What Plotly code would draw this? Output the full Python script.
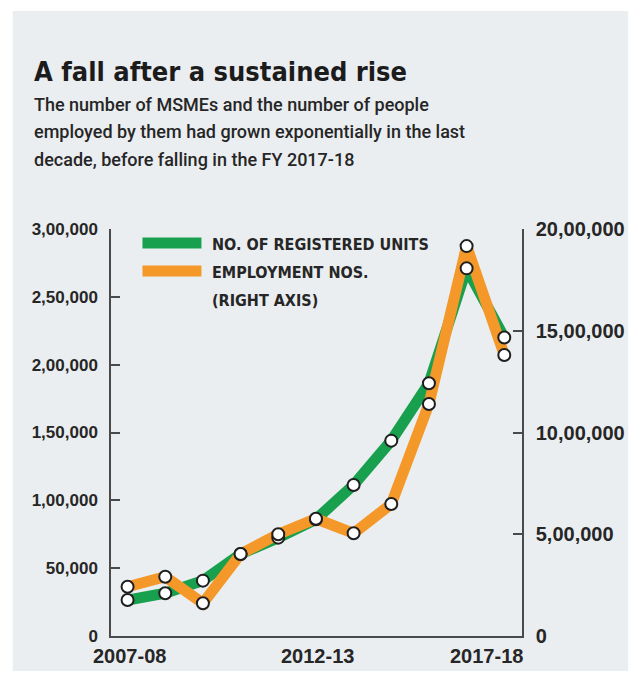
import plotly.graph_objects as go

# ---------------- data ----------------
years = ["2007-08", "2008-09", "2009-10", "2010-11", "2011-12", "2012-13",
         "2013-14", "2014-15", "2015-16", "2016-17", "2017-18"]
registered_units = [26500, 31500, 40800, 60400, 72500, 86000,
                    111300, 144000, 186300, 271000, 220000]
employment = [242000, 291000, 160700, 403000, 500000, 576000,
              504700, 648600, 1140000, 1916000, 1381000]

left_tickvals = [0, 50000, 100000, 150000, 200000, 250000, 300000]
left_ticktext = ["0", "50,000", "1,00,000", "1,50,000", "2,00,000", "2,50,000", "3,00,000"]
right_tickvals = [0, 500000, 1000000, 1500000, 2000000]
right_ticktext = ["0", "5,00,000", "10,00,000", "15,00,000", "20,00,000"]
x_labels = ["2007-08", "2012-13", "2017-18"]
x_label_shift = [2, 2, -18]

title = "A fall after a sustained rise"
subtitle_lines = [
    "The number of MSMEs and the number of people",
    "employed by them had grown exponentially in the last",
    "decade, before falling in the FY 2017-18",
]
legend_labels = ["NO. OF REGISTERED UNITS", "EMPLOYMENT NOS.", "(RIGHT AXIS)"]

# ---------------- style ----------------
W, H = 637, 679
# plot area in page pixels
L, R, T, B = 111, 529, 229, 636
GREEN = "#18a04e"
ORANGE = "#f5982a"
AXIS = "#4a4a4a"
PANEL = "#ebeef1"
TXT = "#262626"
COND = "DejaVu Sans Condensed, sans-serif"
SANS = "Liberation Sans, Arial, sans-serif"


def px(x):
    return (x - L) / (R - L)


def py(y):
    return (B - y) / (B - T)


fig = go.Figure()
fig.add_trace(go.Scatter(x=years, y=registered_units, mode="lines", yaxis="y",
                         line=dict(color=GREEN, width=11), hoverinfo="skip"))
fig.add_trace(go.Scatter(x=years, y=employment, mode="lines", yaxis="y2",
                         line=dict(color=ORANGE, width=11), hoverinfo="skip"))
marker_style = dict(size=12, color="white", line=dict(color="#1f1f1f", width=2))
fig.add_trace(go.Scatter(x=years, y=registered_units, mode="markers", yaxis="y3",
                         marker=marker_style, name="units", hoverinfo="skip"))
fig.add_trace(go.Scatter(x=years, y=employment, mode="markers", yaxis="y4",
                         marker=marker_style, name="employment", hoverinfo="skip"))

shapes = [
    dict(type="rect", xref="paper", yref="paper", x0=px(11), x1=px(W),
         y0=py(11), y1=py(H), fillcolor=PANEL, line=dict(width=0), layer="below"),
    dict(type="line", xref="paper", yref="paper", x0=px(143), x1=px(203),
         y0=py(243), y1=py(243), line=dict(color=GREEN, width=11)),
    dict(type="line", xref="paper", yref="paper", x0=px(143), x1=px(203),
         y0=py(271), y1=py(271), line=dict(color=ORANGE, width=11)),
]

annotations = [
    dict(text="ntroduction of GST.", xref="paper", yref="paper", x=px(-4), y=py(-1),
         xanchor="left", yanchor="middle", showarrow=False,
         font=dict(family="Liberation Serif, Times New Roman, serif", size=25, color="#000")),
    dict(text=title, xref="paper", yref="paper", x=px(31), y=py(71),
         xanchor="left", yanchor="middle", showarrow=False,
         font=dict(family=COND, size=27, color="#1c1c1c", weight="bold")),
]
for i, line in enumerate(subtitle_lines):
    annotations.append(dict(text=line, xref="paper", yref="paper", x=px(31),
                            y=py(104 + 27.5 * i), xanchor="left", yanchor="middle",
                            showarrow=False,
                            font=dict(family="Roboto, sans-serif", size=18, color=TXT,
                                      weight=500)))
for i, lab in enumerate(legend_labels):
    annotations.append(dict(text=lab, xref="paper", yref="paper", x=px(212),
                            y=py(244 + 28 * i), xanchor="left", yanchor="middle",
                            showarrow=False,
                            font=dict(family=COND, size=16, color=TXT, weight="bold")))
for lab, sh in zip(x_labels, x_label_shift):
    annotations.append(dict(text=lab, xref="x", yref="paper", x=lab, y=py(656),
                            xanchor="center", yanchor="middle", xshift=sh,
                            showarrow=False,
                            font=dict(family=SANS, size=20, color=TXT, weight="bold")))

fig.update_layout(
    height=H,
    margin=dict(l=L, r=W - R, t=T, b=H - B, pad=0),
    paper_bgcolor="white", plot_bgcolor="rgba(0,0,0,0)",
    showlegend=False, hovermode=False,
    shapes=shapes, annotations=annotations,
    xaxis=dict(type="category", range=[-0.44, 10.47], showticklabels=False,
               showline=True, linecolor=AXIS, linewidth=1.5, ticks="",
               showgrid=False, zeroline=False, fixedrange=True),
    yaxis=dict(range=[0, 300000], tickvals=left_tickvals, ticktext=left_ticktext,
               ticks="inside", ticklen=9, tickcolor=AXIS, tickwidth=1.5,
               showline=True, linecolor=AXIS, linewidth=1.5,
               showgrid=False, zeroline=False, ticklabelstandoff=8,
               tickfont=dict(family=SANS, size=17, color=TXT, weight="bold")),
    yaxis2=dict(range=[0, 2000000], overlaying="y", side="right",
                tickvals=right_tickvals, ticktext=right_ticktext,
                ticks="inside", ticklen=9, tickcolor=AXIS, tickwidth=1.5,
                showline=True, linecolor=AXIS, linewidth=1.5,
                showgrid=False, zeroline=False, ticklabelstandoff=8,
                tickfont=dict(family=SANS, size=20, color=TXT, weight="bold")),
    yaxis3=dict(range=[0, 300000], overlaying="y", visible=False),
    yaxis4=dict(range=[0, 2000000], overlaying="y", visible=False),
)

# the graph div is pulled over the page's default 8px body margin
fig.write_html("out.html", config={"displayModeBar": False},
               default_width=f"{W}px; margin:-8px")
